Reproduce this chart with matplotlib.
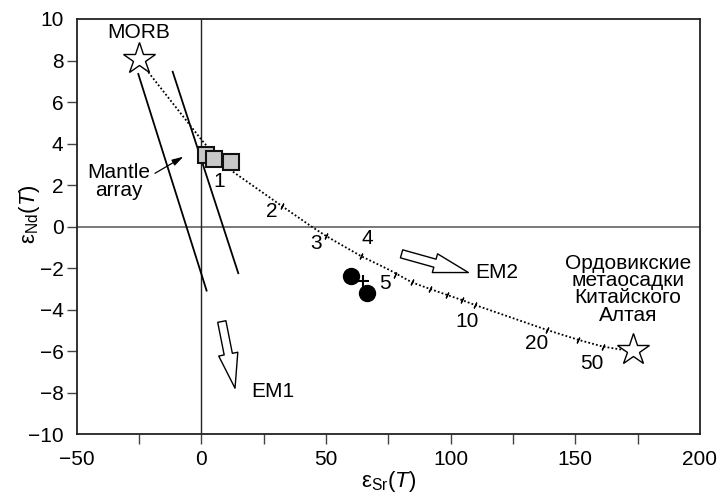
import matplotlib
matplotlib.use("Agg")
import matplotlib.pyplot as plt
from matplotlib.patches import FancyArrowPatch

plt.rcParams['font.family'] = ['Liberation Sans', 'DejaVu Sans']
plt.rcParams['mathtext.fontset'] = 'custom'
plt.rcParams['mathtext.rm'] = 'Liberation Sans'
plt.rcParams['mathtext.it'] = 'Liberation Sans:italic'
plt.rcParams['font.size'] = 15

# ---------------- data ----------------
morb = (-25, 8.06)
sediment = (173, -5.95)

curve_x = [-25, -22.6, 0.13, 8.8, 32.2, 44.25, 50.0, 63.9, 75.7, 84.4, 91.7, 98.6,
           104.4, 109.7, 138.5, 151.2, 161.2, 167.9, 173]
curve_y = [8.06, 7.64, 4.17, 2.97, 1.00, 0.0, -0.45, -1.41, -2.1, -2.68, -3.00, -3.29,
           -3.53, -3.77, -4.97, -5.45, -5.78, -5.91, -5.95]

curve_tick_x = [32.2, 50.0, 63.9, 77.7, 84.4, 91.7, 98.6, 104.4, 109.7, 138.5, 151.2, 161.2]
curve_tick_y = [1.00, -0.45, -1.41, -2.33, -2.68, -3.00, -3.29, -3.53, -3.77, -4.97, -5.45, -5.78]

curve_labels = ['1', '2', '3', '4', '5', '10', '20', '50']
curve_label_x = [7.2, 28.2, 46.0, 66.6, 73.7, 106.4, 134.5, 156.6]
curve_label_y = [2.17, 0.72, -0.80, -0.56, -2.73, -4.57, -5.61, -6.58]

squares_x = [1.9, 5.0, 11.7]
squares_y = [3.44, 3.27, 3.11]

circles_x = [60.0, 66.3]
circles_y = [-2.37, -3.21]

plus_x = [64.9]
plus_y = [-2.61]

mantle_line1_x = [-25.3, 2.1]
mantle_line1_y = [7.35, -3.08]
mantle_line2_x = [-11.5, 14.8]
mantle_line2_y = [7.46, -2.24]

em2_arrow = [(80.3, -1.31), (107.1, -2.21)]
em1_arrow = [(8.2, -4.57), (13.5, -7.78)]
mantle_arrow = [(-18.6, 2.57), (-7.2, 3.37)]

x_ticks = [-50, 0, 50, 100, 150, 200]
x_minor = [-25, 25, 75, 125, 175]
y_ticks = [-10, -8, -6, -4, -2, 0, 2, 4, 6, 8, 10]

# ---------------- figure ----------------
fig = plt.figure(figsize=(7.21, 4.96), dpi=100)
ax = fig.add_axes([0.10638, 0.12440, 0.86449, 0.83730])
ax.set_xlim(-50, 200)
ax.set_ylim(-10, 10)

for s in ax.spines.values():
    s.set_linewidth(1.3)
    s.set_color('#222222')

ax.set_xticks(x_ticks)
ax.set_xticks(x_minor, minor=True)
ax.set_yticks(y_ticks)
ax.tick_params(axis='both', which='both', direction='out', length=7.5, width=1.0,
               color='#444444', labelsize=15)
ax.tick_params(axis='x', which='both', pad=4)
ax.tick_params(axis='y', pad=2)
for t in (ax.xaxis.get_major_ticks()[0], ax.xaxis.get_major_ticks()[-1],
          ax.yaxis.get_major_ticks()[0], ax.yaxis.get_major_ticks()[-1]):
    t.tick1line.set_visible(False)

ax.axhline(0, color='#555555', lw=1.1, zorder=1)
ax.axvline(0, color='#222222', lw=1.0, zorder=1)

# mantle array lines
ax.plot(mantle_line1_x, mantle_line1_y, color='black', lw=1.3, zorder=2)
ax.plot(mantle_line2_x, mantle_line2_y, color='black', lw=1.3, zorder=2)

# mixing curve
ax.plot(curve_x, curve_y, color='black', lw=1.3, linestyle=(0, (1, 1.2)), zorder=3)
ax.plot(curve_tick_x, curve_tick_y, linestyle='none', marker=(2, 2, -25),
        markersize=4.5, markeredgewidth=0.9, color='black', zorder=3)

# stars
ax.plot(*morb, marker='*', markersize=24, markerfacecolor='white',
        markeredgecolor='black', markeredgewidth=1.0, zorder=5)
ax.plot(*sediment, marker='*', markersize=24, markerfacecolor='white',
        markeredgecolor='black', markeredgewidth=1.0, zorder=5)

# squares
for sx, sy in zip(squares_x, squares_y):
    ax.plot(sx, sy, marker='s', markersize=12, markerfacecolor='#c8c8c8',
            markeredgecolor='#111111', markeredgewidth=1.5, zorder=6)

# circles and plus
ax.plot(circles_x, circles_y, linestyle='none', marker='o', markersize=11.5,
        color='black', zorder=6)
ax.plot(plus_x, plus_y, linestyle='none', marker='+', markersize=9,
        markeredgewidth=1.5, color='black', zorder=6)

# curve labels
for lab, lx, ly in zip(curve_labels, curve_label_x, curve_label_y):
    ax.text(lx, ly, lab, ha='center', va='center', fontsize=15, zorder=7)

# hollow arrows
def block_arrow(p0, p1):
    arr = FancyArrowPatch(p0, p1,
                          arrowstyle='simple,head_length=25,head_width=14,tail_width=6',
                          mutation_scale=1, shrinkA=0, shrinkB=0,
                          facecolor='white', edgecolor='black', lw=1.0, zorder=6)
    ax.add_patch(arr)

block_arrow(*em2_arrow)
block_arrow(*em1_arrow)

ax.annotate('', xy=mantle_arrow[1], xytext=mantle_arrow[0],
            arrowprops=dict(arrowstyle='-|>,head_length=0.45,head_width=0.13',
                            color='black', lw=0.9, shrinkA=0, shrinkB=0))

ax.text(-25.3, 9.35, 'MORB', ha='center', va='center', fontsize=15)
ax.text(-33, 2.18, 'Mantle\narray', ha='center', va='center', fontsize=15,
        linespacing=0.9)
ax.text(109.7, -2.23, 'EM2', ha='left', va='center', fontsize=15)
ax.text(20.2, -7.94, 'EM1', ha='left', va='center', fontsize=15)
ax.text(171.1, -3.02, 'Ордовикские\nметаосадки\nКитайского\nАлтая', ha='center',
        va='center', fontsize=15, linespacing=0.88)

# axis labels
fig.text(389 / 721, 1 - 481 / 496, 'ε$_{\\mathregular{Sr}}$($\\mathit{T}$)',
         ha='center', va='center', fontsize=16)
fig.text(30 / 721, 1 - 214 / 496, 'ε$_{\\mathregular{Nd}}$($\\mathit{T}$)',
         ha='center', va='center', fontsize=16, rotation=90)

fig.savefig('out.png', dpi=100)
